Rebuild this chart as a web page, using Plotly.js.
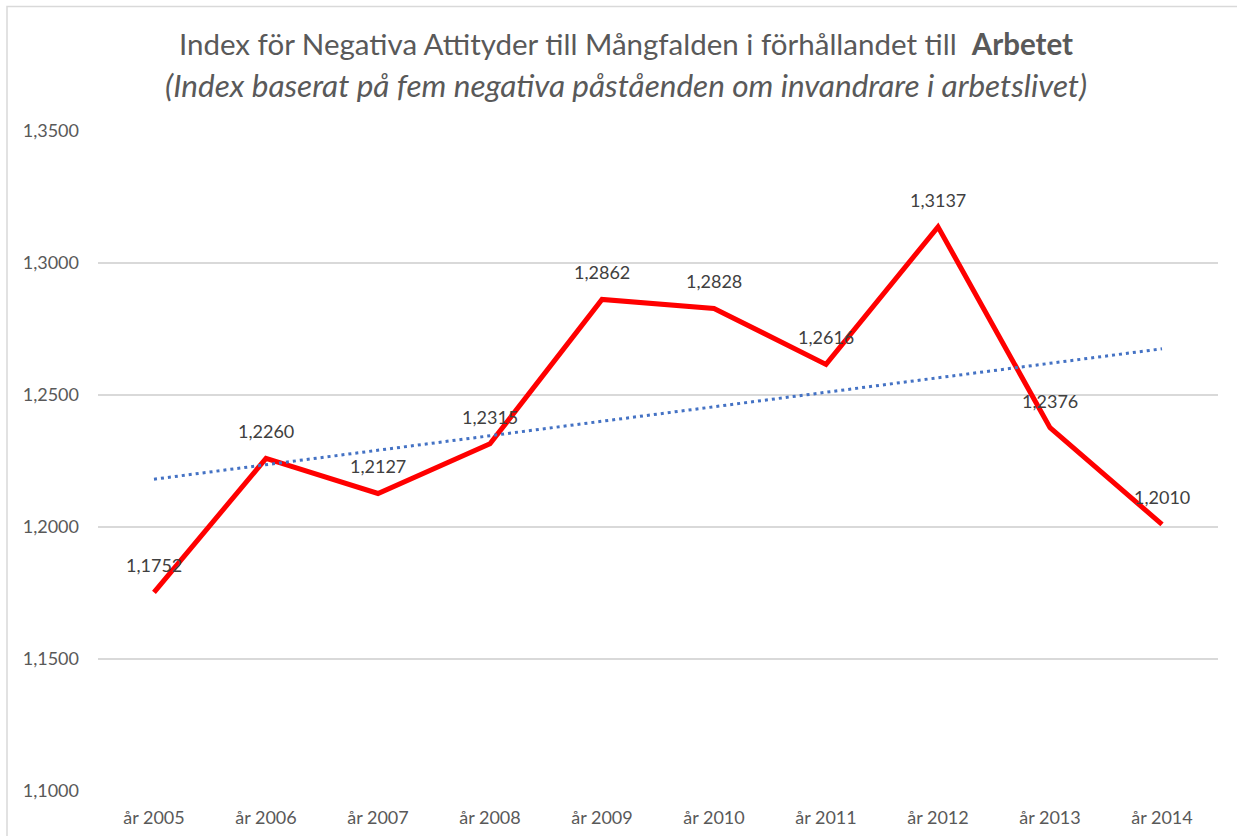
<!DOCTYPE html>
<html>
<head>
<meta charset="utf-8">
<script src="https://cdn.plot.ly/plotly-3.0.1.min.js"></script>
<style>html,body{margin:0;padding:0;background:#fff;}#chart{width:1237px;height:836px;}</style>
</head>
<body>
<div id="chart"></div>
<script>
var categories = ["år 2005","år 2006","år 2007","år 2008","år 2009","år 2010","år 2011","år 2012","år 2013","år 2014"];
var indexValues = [1.1752, 1.2260, 1.2127, 1.2315, 1.2862, 1.2828, 1.2616, 1.3137, 1.2376, 1.2010];
var trendValues = [1.2181, 1.2675];
var titleLine1 = "Index för Negativa Attityder till Mångfalden i förhållandet till  <b>Arbetet</b>";
var titleLine2 = "<i>(Index baserat på fem negativa påståenden om invandrare i arbetslivet)</i>";

var FONT = "Lato, 'Noto Sans', sans-serif";

function fmt(v){ return v.toFixed(4).replace('.', ','); }

var traceMain = {
  type: 'scatter', mode: 'lines',
  x: categories, y: indexValues,
  line: {color: '#FF0000', width: 5},
  hoverinfo: 'skip', showlegend: false
};
var traceTrend = {
  type: 'scatter', mode: 'lines',
  x: [categories[0], categories[categories.length-1]], y: trendValues,
  line: {color: '#4472C4', width: 3, dash: '3px,4px'},
  hoverinfo: 'skip', showlegend: false
};

var annotations = categories.map(function(c, i){
  return {
    x: c, y: indexValues[i], xref: 'x', yref: 'y',
    text: fmt(indexValues[i]), showarrow: false,
    yshift: 27, xanchor: 'center', yanchor: 'middle',
    font: {family: FONT, size: 18, color: '#404040'}
  };
});
annotations.push({
  xref: 'paper', yref: 'paper', x: (626-98)/1120, y: (791-85)/660,
  xanchor: 'center', yanchor: 'middle', showarrow: false,
  text: titleLine2, font: {family: FONT, size: 31.5, color: '#595959'}
});

var layout = {
  width: 1237, height: 836,
  margin: {l: 98, r: 19, t: 131, b: 45},
  paper_bgcolor: '#FFFFFF', plot_bgcolor: '#FFFFFF',
  separators: ', ',
  title: {
    text: titleLine1,
    xref: 'container', yref: 'container',
    x: 626/1237, y: 1 - 45/836, xanchor: 'center', yanchor: 'middle',
    font: {family: FONT, size: 29.5, color: '#595959'}
  },
  xaxis: {
    type: 'category',
    categoryorder: 'array', categoryarray: categories,
    range: [-0.5, categories.length - 0.5],
    showgrid: false, zeroline: false, showline: false, ticks: '',
    tickfont: {family: FONT, size: 18, color: '#595959'},
    ticklabelstandoff: 14,
    fixedrange: true
  },
  yaxis: {
    range: [1.1, 1.35], dtick: 0.05, tick0: 1.1,
    tickformat: '.4f',
    showgrid: true, gridcolor: '#D9D9D9', gridwidth: 1.3,
    zeroline: false, showline: false, ticks: '',
    tickfont: {family: FONT, size: 18, color: '#595959'},
    ticklabelstandoff: 18,
    fixedrange: true
  },
  annotations: annotations,
  shapes: [{
    type: 'rect', xref: 'paper', yref: 'paper',
    x0: (7-98)/1120, x1: 1.1, y0: -0.2, y1: (791-6.5)/660,
    line: {color: '#D9D9D9', width: 1.5}, fillcolor: 'rgba(0,0,0,0)', layer: 'below'
  }]
};

Plotly.newPlot('chart', [traceMain, traceTrend], layout, {displayModeBar: false, staticPlot: true});
</script>
</body>
</html>
